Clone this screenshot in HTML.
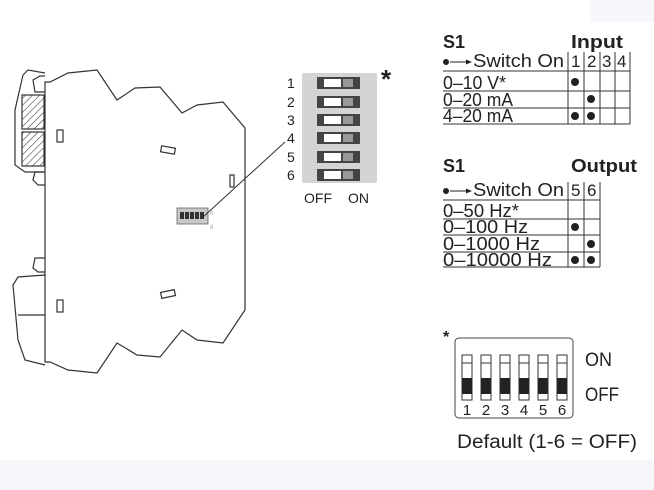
<!DOCTYPE html>
<html><head><meta charset="utf-8"><style>
html,body{margin:0;padding:0;background:#fff;}
svg{display:block;font-family:"Liberation Sans",Arial,sans-serif;}
</style></head><body>
<svg width="654" height="490" viewBox="0 0 654 490" xmlns="http://www.w3.org/2000/svg">
<defs>
<pattern id="h" width="5" height="5" patternUnits="userSpaceOnUse" patternTransform="rotate(45)">
<line x1="0" y1="0" x2="0" y2="5" stroke="#444" stroke-width="1.2"/></pattern>
</defs>
<rect x="590" y="0" width="64" height="22" fill="#f6f6fb"/>
<rect x="0" y="460" width="654" height="30" fill="#f6f6fb"/>

<g fill="none" stroke="#333" stroke-width="1.2">
<path d="M45,82 L50,82 L68,73 L97,70 L117,100 L135,88 L160,87 L182,113 L197,105 L223,102 L245,128 L245,310 L223,343 L197,340 L182,330 L160,357 L137,355 L117,343 L97,373 L68,370 L50,362 L45,362 Z" fill="#fff"/>
<path d="M45,73 L28,70 L23,75 L15,110 L15,165 L25,172 L45,172"/>
<path d="M45,92 L35,92 L33,80 L40,76 L45,76"/>
<rect x="22" y="95" width="22" height="34" fill="url(#h)"/>
<rect x="22" y="132" width="22" height="34" fill="url(#h)"/>
<path d="M45,172 L35,172 L33,180 L38,185 L45,185"/>
<rect x="57" y="130" width="6" height="12"/>
<rect x="161" y="147" width="14" height="6" transform="rotate(10 168 150)"/>
<rect x="230" y="175" width="4" height="12"/>
<path d="M45,258 L35,258 L33,268 L38,272 L45,272"/>
<path d="M45,275 L18,277 L13,285 L18,340 L25,360 L45,365"/>
<line x1="18" y1="315" x2="45" y2="315"/>
<rect x="57" y="300" width="6" height="12"/>
<rect x="161" y="291" width="14" height="6" transform="rotate(-12 168 294)"/>
</g>
<rect x="177" y="208" width="31" height="16" fill="#c8c8c8" stroke="#666" stroke-width="0.8"/>
<g fill="#333"><rect x="180" y="212" width="4" height="7"/><rect x="185" y="212" width="4" height="7"/><rect x="190" y="212" width="4" height="7"/><rect x="195" y="212" width="4" height="7"/><rect x="200" y="212" width="4" height="7"/></g>
<text x="210" y="215" font-size="6" fill="#aaa">6</text>
<text x="210" y="229" font-size="6" fill="#aaa">8</text>
<line x1="285" y1="142" x2="202" y2="218" stroke="#333" stroke-width="1"/>

<rect x="302" y="73" width="75" height="110" fill="#d4d4d4" rx="2"/>
<g font-size="14" fill="#222">
<text x="287" y="88">1</text><text x="287" y="107">2</text><text x="287" y="125">3</text><text x="287" y="143">4</text><text x="287" y="162">5</text><text x="287" y="180">6</text>
<text x="304" y="203" textLength="28" lengthAdjust="spacingAndGlyphs">OFF</text><text x="348" y="203" textLength="21" lengthAdjust="spacingAndGlyphs">ON</text>
</g>
<g>
<rect x="317" y="77" width="43" height="12" fill="#444"/><rect x="324" y="79" width="17" height="8" fill="#fff"/><rect x="343" y="79" width="10" height="8" fill="#999"/>
<rect x="317" y="96" width="43" height="12" fill="#444"/><rect x="324" y="98" width="17" height="8" fill="#fff"/><rect x="343" y="98" width="10" height="8" fill="#999"/>
<rect x="317" y="114" width="43" height="12" fill="#444"/><rect x="324" y="116" width="17" height="8" fill="#fff"/><rect x="343" y="116" width="10" height="8" fill="#999"/>
<rect x="317" y="132" width="43" height="12" fill="#444"/><rect x="324" y="134" width="17" height="8" fill="#fff"/><rect x="343" y="134" width="10" height="8" fill="#999"/>
<rect x="317" y="151" width="43" height="12" fill="#444"/><rect x="324" y="153" width="17" height="8" fill="#fff"/><rect x="343" y="153" width="10" height="8" fill="#999"/>
<rect x="317" y="169" width="43" height="12" fill="#444"/><rect x="324" y="171" width="17" height="8" fill="#fff"/><rect x="343" y="171" width="10" height="8" fill="#999"/>
</g>
<text x="381" y="88" font-size="26" font-weight="bold" fill="#222">*</text>

<!-- Input table -->
<g fill="#222">
<text x="443" y="48" font-size="18" font-weight="bold">S1</text>
<text x="571" y="48" font-size="18" font-weight="bold" textLength="52" lengthAdjust="spacingAndGlyphs">Input</text>
<circle cx="446" cy="62" r="3"/>
<line x1="450" y1="62" x2="467" y2="62" stroke="#222" stroke-width="1"/><path d="M472,62 L466,59.5 L466,64.5 Z"/>
<text x="473" y="67" font-size="18" textLength="91" lengthAdjust="spacingAndGlyphs">Switch On</text>
<text x="571" y="67" font-size="17">1</text><text x="587" y="67" font-size="17">2</text><text x="602" y="67" font-size="17">3</text><text x="617" y="67" font-size="17">4</text>
<text x="443" y="89" font-size="18" textLength="63" lengthAdjust="spacingAndGlyphs">0–10 V*</text>
<text x="443" y="106" font-size="18" textLength="70" lengthAdjust="spacingAndGlyphs">0–20 mA</text>
<text x="443" y="122" font-size="18" textLength="70" lengthAdjust="spacingAndGlyphs">4–20 mA</text>
<circle cx="575" cy="82" r="4"/><circle cx="591" cy="99" r="4"/><circle cx="575" cy="116" r="4"/><circle cx="591" cy="116" r="4"/>
</g>
<g stroke="#333" stroke-width="1">
<line x1="443" y1="71" x2="630" y2="71"/>
<line x1="443" y1="91" x2="630" y2="91"/><line x1="443" y1="108" x2="630" y2="108"/><line x1="443" y1="124" x2="630" y2="124"/>
<line x1="568" y1="52" x2="568" y2="124"/><line x1="584" y1="52" x2="584" y2="124"/><line x1="600" y1="52" x2="600" y2="124"/><line x1="615" y1="52" x2="615" y2="124"/><line x1="630" y1="52" x2="630" y2="124"/>
</g>

<!-- Output table -->
<g fill="#222">
<text x="443" y="172" font-size="18" font-weight="bold">S1</text>
<text x="571" y="172" font-size="18" font-weight="bold" textLength="66" lengthAdjust="spacingAndGlyphs">Output</text>
<circle cx="446" cy="191" r="3"/>
<line x1="450" y1="191" x2="467" y2="191" stroke="#222" stroke-width="1"/><path d="M472,191 L466,188.5 L466,193.5 Z"/>
<text x="473" y="196" font-size="18" textLength="91" lengthAdjust="spacingAndGlyphs">Switch On</text>
<text x="571" y="196" font-size="17">5</text><text x="587" y="196" font-size="17">6</text>
<text x="443" y="217" font-size="18" textLength="76" lengthAdjust="spacingAndGlyphs">0–50 Hz*</text>
<text x="443" y="233" font-size="18" textLength="85" lengthAdjust="spacingAndGlyphs">0–100 Hz</text>
<text x="443" y="250" font-size="18" textLength="97" lengthAdjust="spacingAndGlyphs">0–1000 Hz</text>
<text x="443" y="266" font-size="18" textLength="109" lengthAdjust="spacingAndGlyphs">0–10000 Hz</text>
<circle cx="575" cy="227" r="4"/><circle cx="591" cy="244" r="4"/><circle cx="575" cy="260" r="4"/><circle cx="591" cy="260" r="4"/>
</g>
<g stroke="#333" stroke-width="1">
<line x1="443" y1="200" x2="600" y2="200"/>
<line x1="443" y1="219" x2="600" y2="219"/><line x1="443" y1="235" x2="600" y2="235"/><line x1="443" y1="252" x2="600" y2="252"/><line x1="443" y1="267" x2="600" y2="267"/>
<line x1="568" y1="182" x2="568" y2="267"/><line x1="584" y1="182" x2="584" y2="267"/><line x1="600" y1="182" x2="600" y2="267"/>
</g>

<!-- Default dip -->
<text x="443" y="342" font-size="16" font-weight="bold" fill="#222">*</text>
<rect x="455" y="338" width="118" height="80" rx="4" fill="#fff" stroke="#444" stroke-width="1"/>
<g stroke="#333" stroke-width="1" fill="#fff">
<rect x="462" y="355" width="10" height="45"/><rect x="481" y="355" width="10" height="45"/><rect x="500" y="355" width="10" height="45"/><rect x="519" y="355" width="10" height="45"/><rect x="538" y="355" width="10" height="45"/><rect x="557" y="355" width="10" height="45"/>
</g>
<g stroke="#333" stroke-width="1">
<line x1="462" y1="363" x2="472" y2="363"/><line x1="481" y1="363" x2="491" y2="363"/><line x1="500" y1="363" x2="510" y2="363"/><line x1="519" y1="363" x2="529" y2="363"/><line x1="538" y1="363" x2="548" y2="363"/><line x1="557" y1="363" x2="567" y2="363"/>
</g>
<g fill="#222">
<rect x="462" y="378" width="10" height="16"/><rect x="481" y="378" width="10" height="16"/><rect x="500" y="378" width="10" height="16"/><rect x="519" y="378" width="10" height="16"/><rect x="538" y="378" width="10" height="16"/><rect x="557" y="378" width="10" height="16"/>
</g>
<g font-size="15" fill="#222" text-anchor="middle">
<text x="467" y="415">1</text><text x="486" y="415">2</text><text x="505" y="415">3</text><text x="524" y="415">4</text><text x="543" y="415">5</text><text x="562" y="415">6</text>
</g>
<text x="585" y="366" font-size="19" fill="#222" textLength="27" lengthAdjust="spacingAndGlyphs">ON</text>
<text x="585" y="401" font-size="19" fill="#222" textLength="34" lengthAdjust="spacingAndGlyphs">OFF</text>
<text x="457" y="448" font-size="19" fill="#222" textLength="180" lengthAdjust="spacingAndGlyphs">Default (1-6 = OFF)</text>
</svg>
</body></html>
